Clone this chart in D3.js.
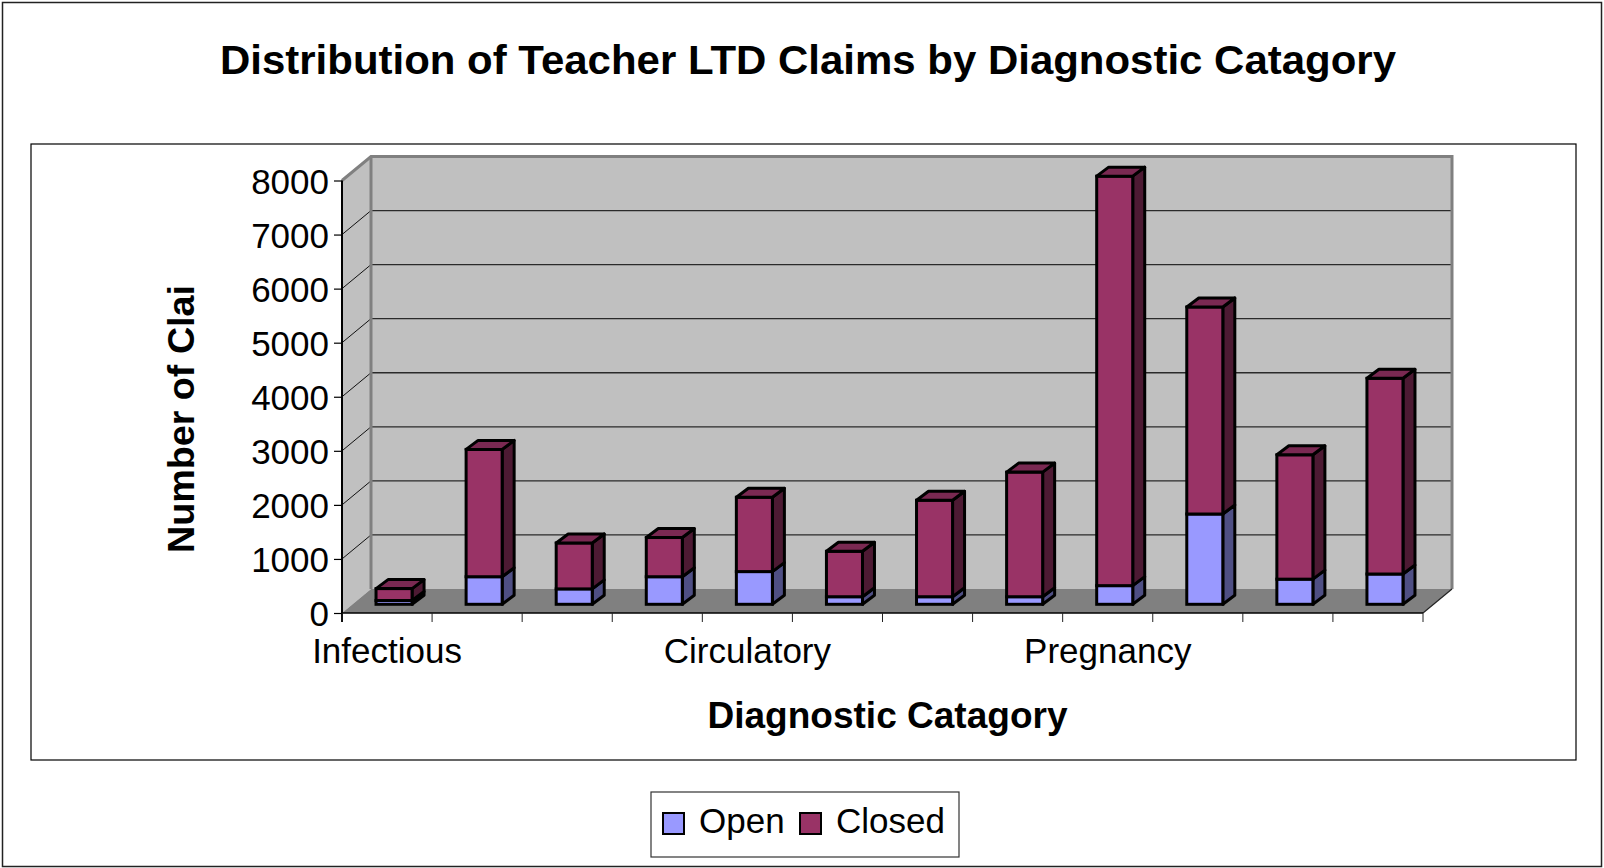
<!DOCTYPE html>
<html>
<head>
<meta charset="utf-8">
<script src="https://cdn.jsdelivr.net/npm/d3@7"></script>
<style>
  body { margin: 0; background: #fff; }
  text { font-family: "Liberation Sans", Arial, sans-serif; fill: #000; }
</style>
</head>
<body>
<div id="root"></div>
<script>
// data
var categories = ["Infectious", "Neoplasms", "Endocrine", "Nervous", "Circulatory", "Respiratory",
                  "Digestive", "Genitourinary", "Pregnancy", "Mental", "Injury", "Musculoskeletal"]
var shownLabels = ["Infectious", "Circulatory", "Pregnancy"]
var openValues = [70, 510, 285, 510, 605, 140, 140, 140, 345, 1670, 465, 560]
var closedValues = [220, 2355, 850, 725, 1375, 840, 1785, 2305, 7575, 3830, 2300, 3620]
var yTicks = [0, 1000, 2000, 3000, 4000, 5000, 6000, 7000, 8000]
var seriesNames = ["Open", "Closed"]

window.onload = function () {
    var width = 1604
    var height = 868
    // oblique 3d offsets
    var depthX = 29, depthY = -24      // floor / wall depth
    var barDx = 7, barDy = -8.7        // where bar front sits on the floor
    var sideX = 12, sideY = -9         // bar depth
    var left = 342, right = 1423

    var svg = d3.select("#root").append("svg")
        .attr("width", width)
        .attr("height", height)

    var colors = {
        Open: { front: "#9999ff", side: "#4f4f84", top: "#7a7acc" },
        Closed: { front: "#993366", side: "#4d1a33", top: "#7a2952" }
    }

    // frames
    svg.append("rect").attr("x", 2.5).attr("y", 2.5).attr("width", 1599).attr("height", 864)
        .attr("fill", "#fff").attr("stroke", "#222").attr("stroke-width", 1.5)
    svg.append("rect").attr("x", 31).attr("y", 144).attr("width", 1545).attr("height", 616)
        .attr("fill", "#fff").attr("stroke", "#000").attr("stroke-width", 1.2)

    var x = d3.scaleBand()
        .domain(categories)
        .range([left, right])
        .paddingInner(0.6)
        .paddingOuter(0.3)
    var y = d3.scaleLinear()
        .domain([0, 8000])
        .range([613, 180.5])

    var top = y(8000), base = y(0)

    // walls
    var walls = svg.append("g")
    walls.append("polygon")
        .attr("points", [[left, base], [left, top], [left + depthX, top + depthY], [left + depthX, base + depthY]].join(" "))
        .attr("fill", "#c0c0c0")
    walls.append("rect")
        .attr("x", left + depthX).attr("y", top + depthY)
        .attr("width", right - left).attr("height", base - top)
        .attr("fill", "#c0c0c0")
    walls.append("polygon")
        .attr("points", [[left, base], [right, base], [right + depthX, base + depthY], [left + depthX, base + depthY]].join(" "))
        .attr("fill", "#808080")

    // gridlines
    var grid = svg.append("g")
    grid.selectAll("line.back")
        .data(yTicks.filter(function (d) { return d > 0 && d < 8000 }))
        .enter().append("line")
        .attr("class", "back")
        .attr("x1", left + depthX).attr("x2", right + depthX)
        .attr("y1", function (d) { return y(d) + depthY })
        .attr("y2", function (d) { return y(d) + depthY })
        .attr("stroke", "#2a2a2a").attr("stroke-width", 1.3)
    grid.selectAll("line.side")
        .data(yTicks.filter(function (d) { return d > 0 && d < 8000 }))
        .enter().append("line")
        .attr("class", "side")
        .attr("x1", left).attr("x2", left + depthX)
        .attr("y1", function (d) { return y(d) })
        .attr("y2", function (d) { return y(d) + depthY })
        .attr("stroke", "#111").attr("stroke-width", 1)

    // wall edges
    var edgeColor = "#808080"
    grid.append("polyline")
        .attr("points", [[left, top], [left + depthX, top + depthY], [right + depthX, top + depthY], [right + depthX, base + depthY]].join(" "))
        .attr("fill", "none").attr("stroke", edgeColor).attr("stroke-width", 3)
    grid.append("line")
        .attr("x1", left + depthX).attr("x2", left + depthX)
        .attr("y1", top + depthY).attr("y2", base + depthY)
        .attr("stroke", edgeColor).attr("stroke-width", 3)
    grid.append("line")
        .attr("x1", right).attr("x2", right + depthX)
        .attr("y1", base).attr("y2", base + depthY)
        .attr("stroke", "#222").attr("stroke-width", 1.2)
    grid.append("line")
        .attr("x1", left).attr("x2", right)
        .attr("y1", base).attr("y2", base)
        .attr("stroke", "#000").attr("stroke-width", 1.5)
    grid.append("line")
        .attr("x1", left).attr("x2", left)
        .attr("y1", base + 9).attr("y2", top)
        .attr("stroke", "#000").attr("stroke-width", 2)

    // category ticks between categories
    var boundaries = d3.range(categories.length + 1).map(function (i) { return left + i * (right - left) / categories.length })
    grid.selectAll("line.ctick")
        .data(boundaries)
        .enter().append("line")
        .attr("class", "ctick")
        .attr("x1", function (d) { return d }).attr("x2", function (d) { return d })
        .attr("y1", base).attr("y2", base + 9)
        .attr("stroke", "#222").attr("stroke-width", 1)

    // y axis
    var yAxis = d3.axisLeft(y).tickValues(yTicks).tickSize(8).tickPadding(5).tickFormat(d3.format("d"))
    var yg = svg.append("g")
        .attr("transform", "translate(" + left + ",0)")
        .call(yAxis)
    yg.select(".domain").remove()
    yg.selectAll(".tick line").attr("stroke", "#000").attr("stroke-width", 1.2)
    yg.selectAll(".tick text")
        .attr("font-size", 35)
        .attr("font-family", "'Liberation Sans', Arial, sans-serif")
        .attr("dy", "0.36em")

    // x axis labels (every 4th)
    var xAxis = d3.axisBottom(x).tickValues(shownLabels).tickSize(0).tickPadding(0)
    var xg = svg.append("g")
        .attr("transform", "translate(0," + base + ")")
        .call(xAxis)
    xg.select(".domain").remove()
    xg.selectAll(".tick text")
        .attr("font-size", 35)
        .attr("font-family", "'Liberation Sans', Arial, sans-serif")
        .attr("y", 50)
        .attr("dy", 0)

    // stacked bars
    var rows = categories.map(function (c, i) {
        return { cat: c, Open: openValues[i], Closed: closedValues[i] }
    })
    var stack = d3.stack().keys(seriesNames)(rows)

    var bars = svg.append("g")
    categories.forEach(function (c, i) {
        var bx = x(c) + barDx
        var bw = x.bandwidth()
        var g = bars.append("g")
        stack.forEach(function (layer, li) {
            var seg = layer[i]
            var col = colors[layer.key]
            var yt = y(seg[1]) + barDy
            var yb = y(seg[0]) + barDy
            g.append("polygon")
                .attr("points", [[bx + bw, yt], [bx + bw + sideX, yt + sideY], [bx + bw + sideX, yb + sideY], [bx + bw, yb]].join(" "))
                .attr("fill", col.side).attr("stroke", "#000").attr("stroke-width", 3).attr("stroke-linejoin", "round")
            g.append("rect")
                .attr("x", bx).attr("y", yt)
                .attr("width", bw).attr("height", yb - yt)
                .attr("fill", col.front).attr("stroke", "#000").attr("stroke-width", 3)
            if (li === stack.length - 1) {
                g.append("polygon")
                    .attr("points", [[bx, yt], [bx + sideX, yt + sideY], [bx + bw + sideX, yt + sideY], [bx + bw, yt]].join(" "))
                    .attr("fill", col.top).attr("stroke", "#000").attr("stroke-width", 3).attr("stroke-linejoin", "round")
            }
        })
    })

    // titles
    svg.append("text")
        .attr("x", 808).attr("y", 74)
        .attr("text-anchor", "middle")
        .attr("font-size", 41).attr("font-weight", "bold")
        .attr("textLength", 1176).attr("lengthAdjust", "spacingAndGlyphs")
        .text("Distribution of Teacher LTD Claims by Diagnostic Catagory")
    svg.append("text")
        .attr("x", 887.5).attr("y", 728)
        .attr("text-anchor", "middle")
        .attr("font-size", 36).attr("font-weight", "bold")
        .attr("textLength", 360).attr("lengthAdjust", "spacingAndGlyphs")
        .text("Diagnostic Catagory")
    svg.append("text")
        .attr("transform", "translate(194,419) rotate(-90)")
        .attr("text-anchor", "middle")
        .attr("font-size", 37).attr("font-weight", "bold")
        .attr("textLength", 268).attr("lengthAdjust", "spacingAndGlyphs")
        .text("Number of Clai")

    // legend
    var legend = svg.append("g")
    legend.append("rect")
        .attr("x", 651).attr("y", 792).attr("width", 308).attr("height", 65)
        .attr("fill", "#fff").attr("stroke", "#333").attr("stroke-width", 1.2)
    var legendX = [663, 800]
    seriesNames.forEach(function (s, i) {
        legend.append("rect")
            .attr("x", legendX[i]).attr("y", 813).attr("width", 21).attr("height", 21)
            .attr("fill", colors[s].front).attr("stroke", "#000").attr("stroke-width", 2)
        legend.append("text")
            .attr("x", legendX[i] + 36).attr("y", 833)
            .attr("font-size", 35)
            .text(s)
    })
}
</script>
</body>
</html>
